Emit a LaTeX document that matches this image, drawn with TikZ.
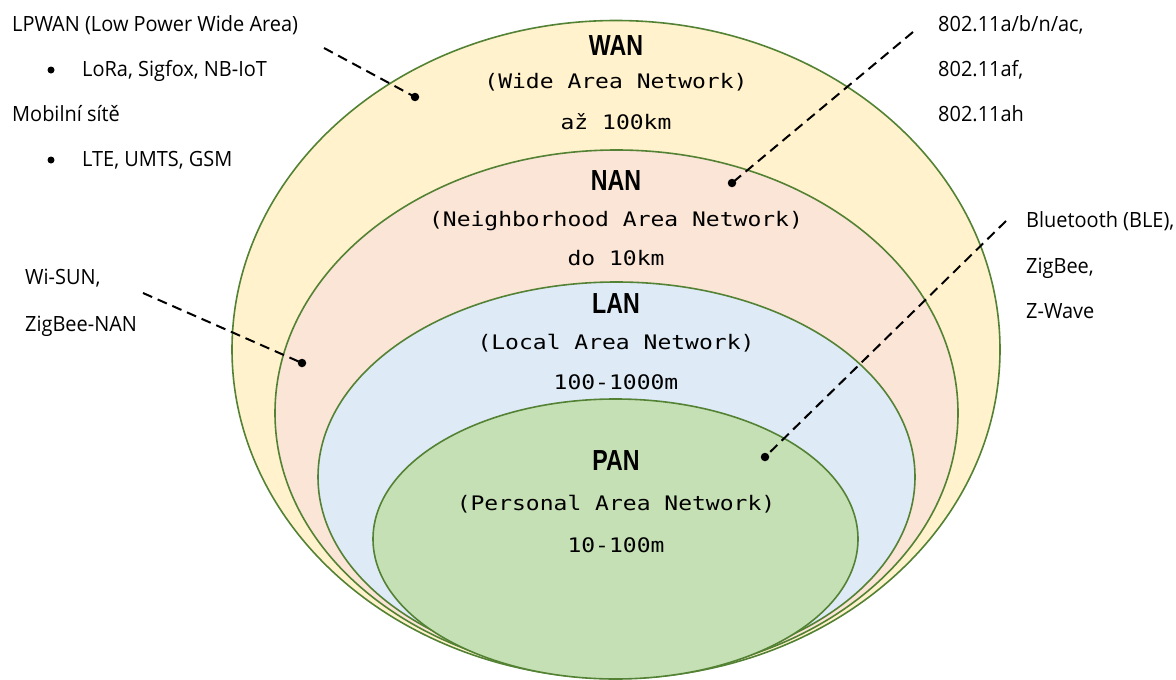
\documentclass[tikz,border=0pt]{standalone}
\usepackage{fontspec}
\setmainfont[FakeStretch=0.95]{Open Sans}
\newfontfamily\monofont[FakeStretch=1.15]{DejaVu Sans Mono}
\newfontfamily\headfont[FakeStretch=0.8]{Liberation Sans}
\usetikzlibrary{shapes.geometric}
\definecolor{wanfill}{HTML}{FFF2CC}
\definecolor{nanfill}{HTML}{FBE5D6}
\definecolor{lanfill}{HTML}{DEEBF7}
\definecolor{panfill}{HTML}{C5E0B4}
\definecolor{ring}{HTML}{548235}
\begin{document}
\begin{tikzpicture}[x=1pt,y=-1pt,
  zone/.style={ellipse, draw=ring, line width=1.6pt, inner sep=0pt},
  head/.style={font=\headfont\bfseries\fontsize{29}{32}\selectfont, inner sep=0pt, anchor=base},
  mono/.style={font=\monofont\fontsize{20}{24}\selectfont, inner sep=0pt, anchor=base},
  lbl/.style={font=\fontsize{21}{24}\selectfont, anchor=base west, inner sep=0pt},
  lead/.style={dash pattern=on 10pt off 6pt, line width=2pt},
  tipdot/.style={fill=black, circle, inner sep=0pt, minimum size=8.5pt},
  bul/.style={fill=black, circle, inner sep=0pt, minimum size=7pt}]
\useasboundingbox (0,0) rectangle (1176,680);
% zones
\node[zone, fill=wanfill, minimum width=768, minimum height=658] (wan) at (616,349.5) {};
\node[zone, fill=nanfill, minimum width=683, minimum height=526] (nan) at (616.5,413) {};
\node[zone, fill=lanfill, minimum width=597, minimum height=390] (lan) at (616.5,477) {};
\node[zone, fill=panfill, minimum width=485, minimum height=280] (pan) at (615.5,539) {};
% zone texts
\node[head] (wanh) at (616,55) {WAN};
\node[mono] (wanf) at (616,88) {(Wide Area Network)};
\node[mono] (wanr) at (616,129) {až 100km};
\node[head] (nanh) at (616,190.7) {NAN};
\node[mono] (nanf) at (616,226) {(Neighborhood Area Network)};
\node[mono] (nanr) at (616,265) {do 10km};
\node[head] (lanh) at (616,313) {LAN};
\node[mono] (lanf) at (616,349) {(Local Area Network)};
\node[mono] (lanr) at (616,389) {100-1000m};
\node[head] (panh) at (616,470) {PAN};
\node[mono] (panf) at (616,510) {(Personal Area Network)};
\node[mono] (panr) at (616,552) {10-100m};
% left labels
\node[lbl] (lp) at (12,31.7) {LPWAN (Low Power Wide Area)};
\node[bul] (b1) at (51,70) {};
\node[lbl] (lp1) at (82,76.7) {LoRa, Sigfox, NB-IoT};
\node[lbl] (mob) at (12,121.7) {Mobilní sítě};
\node[bul] (b2) at (51,160) {};
\node[lbl] (mob1) at (82,166.7) {LTE, UMTS, GSM};
\node[lbl] (ws) at (25,284) {Wi-SUN,};
\node[lbl] (zbn) at (25,331) {ZigBee-NAN};
% right labels
\node[lbl] (w1) at (938,31.7) {802.11a/b/n/ac,};
\node[lbl] (w2) at (938,76.7) {802.11af,};
\node[lbl] (w3) at (938,121.7) {802.11ah};
\node[lbl] (bt) at (1026,227.7) {Bluetooth (BLE),};
\node[lbl] (zb) at (1026,273) {ZigBee,};
\node[lbl] (zw) at (1026,318) {Z-Wave};
% leaders
\coordinate (s1) at (324,48);
\coordinate (s2) at (913,32);
\coordinate (s3) at (143,293);
\coordinate (s4) at (1006,221);
\node[tipdot] (d1) at (415,97) {};
\node[tipdot] (d2) at (732,183) {};
\node[tipdot] (d3) at (302,363) {};
\node[tipdot] (d4) at (765,457) {};
\draw[lead] (s1) -- (d1.center);
\draw[lead] (s2) -- (d2.center);
\draw[lead] (s3) -- (d3.center);
\draw[lead] (s4) -- (d4.center);
\end{tikzpicture}
\end{document}
